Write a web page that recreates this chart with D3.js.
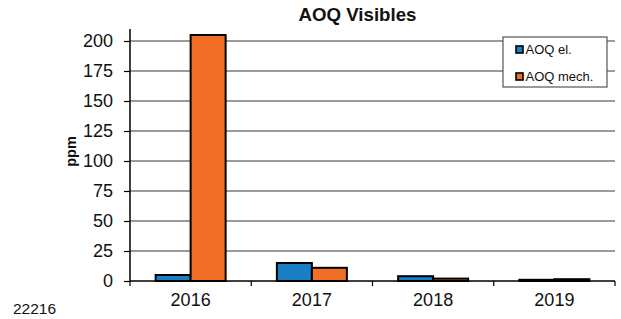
<!DOCTYPE html>
<html>
<head>
<meta charset="utf-8">
<script src="https://cdn.jsdelivr.net/npm/d3@7"></script>
<style>
  html, body { margin: 0; padding: 0; background: #fff; }
  svg { display: block; font-family: "Liberation Sans", Arial, Helvetica, sans-serif; }
</style>
</head>
<body>
<svg id="chart" width="621" height="319"></svg>
<script>
const years = ["2016", "2017", "2018", "2019"];
const seriesNames = ["AOQ el.", "AOQ mech."];
const aoqEl = [5, 15, 4, 1];
const aoqMech = [205, 11, 2, 1.5];
const yTicks = [0, 25, 50, 75, 100, 125, 150, 175, 200];
const colors = ["#1a7ec4", "#f26e26"];
const title = "AOQ Visibles";
const yLabel = "ppm";
const footNote = "22216";

(function () {
const svg = d3.select("#chart");
const plotLeft = 130, plotRight = 615, plotTop = 29, plotBottom = 281;

const x0 = d3.scaleBand().domain(years).range([plotLeft, plotRight]).padding(0);
const x1 = d3.scaleBand().domain(seriesNames).range([0, x0.bandwidth()]).paddingInner(0).paddingOuter(0.732);
const y = d3.scaleLinear().domain([0, 210]).range([plotBottom, plotTop]);

// gridlines
svg.append("g").selectAll("line").data(yTicks.filter(d => d > 0)).join("line")
  .attr("x1", plotLeft).attr("x2", plotRight)
  .attr("y1", d => y(d)).attr("y2", d => y(d))
  .attr("stroke", "#7a7a7a").attr("stroke-width", 1.6);

// bars
const data = years.map((yr, i) => ({ year: yr, values: [aoqEl[i], aoqMech[i]] }));
const groups = svg.append("g").selectAll("g").data(data).join("g")
  .attr("transform", d => `translate(${x0(d.year)},0)`);
groups.selectAll("rect").data(d => d.values.map((v, j) => ({ v, name: seriesNames[j], j }))).join("rect")
  .attr("x", d => x1(d.name))
  .attr("width", x1.bandwidth())
  .attr("y", d => y(d.v))
  .attr("height", d => y(0) - y(d.v))
  .attr("fill", d => colors[d.j])
  .attr("stroke", "#000").attr("stroke-width", 2);

// y axis
const yAxis = d3.axisLeft(y).tickValues(yTicks).tickSize(6).tickPadding(11);
const gy = svg.append("g").attr("transform", `translate(${plotLeft},0)`).call(yAxis);
gy.select(".domain").attr("stroke", "#000").attr("stroke-width", 1.5).attr("d", `M0,${plotTop}V${plotBottom}`);
gy.selectAll(".tick line").attr("stroke", "#000").attr("stroke-width", 1.2);
gy.selectAll(".tick text").attr("font-size", 18).attr("fill", "#111")
  .attr("font-family", "'Liberation Sans', Arial, sans-serif");

// x axis
const xAxis = d3.axisBottom(x0).tickSize(0).tickPadding(12);
const gx = svg.append("g").attr("transform", `translate(0,${plotBottom})`).call(xAxis);
gx.select(".domain").attr("stroke", "#000").attr("stroke-width", 1.5).attr("d", `M${plotLeft},0H${plotRight}`);
gx.selectAll(".tick text").attr("font-size", 18).attr("fill", "#111")
  .attr("font-family", "'Liberation Sans', Arial, sans-serif");
// category separator ticks
const bounds = years.map(d => x0(d)).concat([plotRight]);
gx.append("g").selectAll("line").data(bounds).join("line")
  .attr("x1", d => d).attr("x2", d => d).attr("y1", 0).attr("y2", 5)
  .attr("stroke", "#000").attr("stroke-width", 1.2);

// title
svg.append("text").attr("x", 357.5).attr("y", 20.7).attr("text-anchor", "middle")
  .attr("font-size", 18).attr("font-weight", "bold").attr("fill", "#111")
  .attr("textLength", 118).attr("lengthAdjust", "spacingAndGlyphs")
  .text(title);

// y label
svg.append("text").attr("transform", "translate(76,151.5) rotate(-90)")
  .attr("text-anchor", "middle").attr("font-size", 14.5).attr("font-weight", "bold").attr("fill", "#111")
  .text(yLabel);

// footnote
svg.append("text").attr("x", 13).attr("y", 314).attr("font-size", 15.5).attr("fill", "#111")
  .text(footNote);

// legend
const lg = svg.append("g");
lg.append("rect").attr("x", 503).attr("y", 37).attr("width", 104).attr("height", 50)
  .attr("fill", "#fff").attr("stroke", "#555").attr("stroke-width", 1.2);
const items = lg.selectAll("g").data(seriesNames).join("g")
  .attr("transform", (d, i) => `translate(516,${45 + i * 27})`);
items.append("rect").attr("x", 0).attr("y", 1).attr("width", 7).attr("height", 7)
  .attr("fill", (d, i) => colors[i]).attr("stroke", "#000").attr("stroke-width", 1.6);
items.append("text").attr("x", 9.5).attr("y", 8.5).attr("font-size", 13).attr("fill", "#111")
  .text(d => d);
})();
</script>
</body>
</html>
